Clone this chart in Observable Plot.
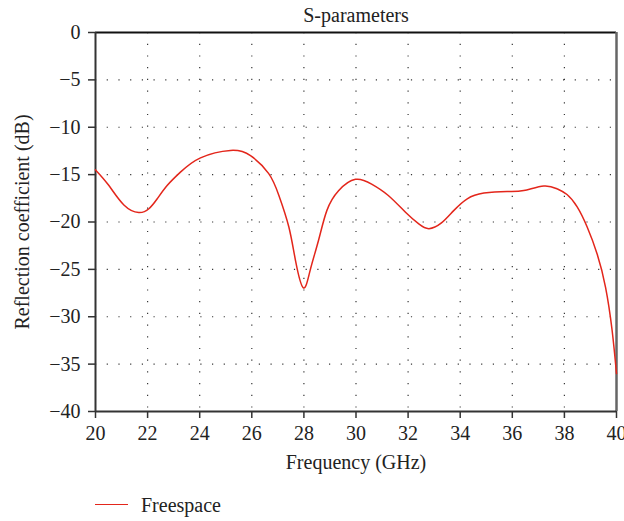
<!DOCTYPE html>
<html>
<head>
<meta charset="utf-8">
<script src="https://cdn.jsdelivr.net/npm/d3@7"></script>
<script src="https://cdn.jsdelivr.net/npm/@observablehq/plot@0.6"></script>
<style>
body { margin: 0; background: #fff; font-family: 'Liberation Serif', serif; }
svg text, svg g { font-family: 'Liberation Serif', serif !important; }
#legend { position: relative; height: 41px; font-size: 20px; color: #222; }
#legend .sw { position: absolute; left: 95px; top: 24px; width: 33px; height: 0; border-top: 1.5px solid #e3261b; }
#legend .lb { position: absolute; left: 141px; top: 14px; }
</style>
</head>
<body>
<div id="chart"></div>
<div id="legend"><span class="sw"></span><span class="lb">Freespace</span></div>
<script>
const freq = [20, 20.5, 21.09, 21.66, 22.05, 22.37, 22.75, 23.26, 24.03, 25.18, 25.95, 26.65, 27.04, 27.42, 27.68, 27.98, 28.24, 28.56, 28.88, 29.33, 29.98, 30.6, 31.24, 31.9, 32.41, 32.8, 33.28, 33.75, 34.27, 34.91, 35.8, 36.44, 37.21, 37.72, 38.1, 38.49, 38.87, 39.26, 39.58, 39.83, 40];
const s11 = [-14.5, -16.1, -18.2, -19.0, -18.6, -17.55, -16.15, -14.74, -13.23, -12.45, -13.0, -14.9, -17.2, -20.5, -24.1, -26.95, -25.1, -21.95, -18.8, -16.7, -15.5, -16.0, -17.2, -18.97, -20.2, -20.7, -20.1, -18.8, -17.55, -16.95, -16.78, -16.68, -16.2, -16.5, -17.1, -18.4, -20.5, -23.4, -26.9, -31.4, -36.0];
const xTicks = [20, 22, 24, 26, 28, 30, 32, 34, 36, 38, 40];
const yTicks = [0, -5, -10, -15, -20, -25, -30, -35, -40];
const xGrid = [22, 24, 26, 28, 30, 32, 34, 36, 38];
const yGrid = [-5, -10, -15, -20, -25, -30, -35];
const title = "S-parameters";
const xLabel = "Frequency (GHz)";
const yLabel = "Reflection coefficient (dB)";

const data = freq.map((f, i) => ({f, v: s11[i]}));
const fmt = d => d < 0 ? "\u2212" + Math.abs(d) : String(d);
const ff = "'Liberation Serif', serif";

const chart = Plot.plot({
  width: 624,
  height: 480,
  marginTop: 32,
  marginBottom: 69,
  marginLeft: 95,
  marginRight: 8,
  style: {fontFamily: ff, fontSize: "20px", color: "#222", background: "#fff"},
  x: {domain: [20, 40], ticks: xTicks, tickFormat: d => String(d), label: null},
  y: {domain: [-40, 0], ticks: yTicks, tickFormat: fmt, label: null},
  marks: [
    Plot.gridX(xGrid, {stroke: "#222", strokeOpacity: 0.9, strokeWidth: 1.2, strokeDasharray: "1.2,10.5"}),
    Plot.gridY(yGrid, {stroke: "#222", strokeOpacity: 0.9, strokeWidth: 1.2, strokeDasharray: "1.2,10.5"}),
    Plot.axisX(xTicks, {tickSize: 7, tickPadding: 7, stroke: "#333", strokeWidth: 1.5, tickFormat: d => String(d), fontSize: 20, fontFamily: ff, label: null}),
    Plot.axisY(yTicks, {tickSize: 7, tickPadding: 8, stroke: "#333", strokeWidth: 1.5, tickFormat: fmt, fontSize: 20, fontFamily: ff, label: null}),
    Plot.ruleY([0], {stroke: "#111", strokeWidth: 2}),
    Plot.ruleX([40], {stroke: "#666", strokeWidth: 2.5}),
    Plot.ruleX([20], {stroke: "#333", strokeWidth: 2}),
    Plot.ruleY([-40], {stroke: "#333", strokeWidth: 2}),
    Plot.line(data, {x: "f", y: "v", stroke: "#e3261b", strokeWidth: 1.5, curve: "natural"}),
    Plot.text([title], {frameAnchor: "top", dy: -25, fontSize: 20, fill: "#222", fontFamily: ff}),
    Plot.text([xLabel], {frameAnchor: "bottom", dy: 57, fontSize: 20, fill: "#222", fontFamily: ff}),
    Plot.text([yLabel], {frameAnchor: "left", dx: -73, rotate: -90, textAnchor: "middle", fontSize: 20, fill: "#222", fontFamily: ff})
  ]
});
document.getElementById("chart").appendChild(chart);
</script>
</body>
</html>
